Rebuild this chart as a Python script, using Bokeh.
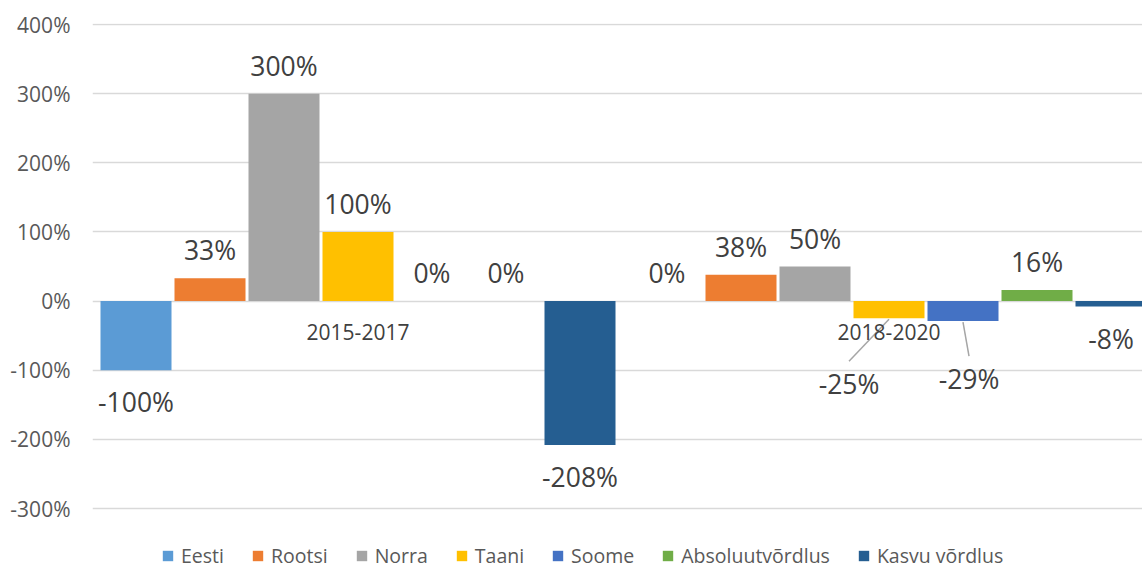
from bokeh.plotting import figure
from bokeh.models import ColumnDataSource, FixedTicker, PrintfTickFormatter, Legend, LegendItem, Range1d
from bokeh.core.properties import value
from bokeh.embed import file_html
from bokeh.resources import INLINE

# ---- data ----
periods = ["2015-2017", "2018-2020"]
series = ["Eesti", "Rootsi", "Norra", "Taani", "Soome", "Absoluutvõrdlus", "Kasvu võrdlus"]
eesti = [-100, 0]
rootsi = [33, 38]
norra = [300, 50]
taani = [100, -25]
soome = [0, -29]
absoluutvordlus = [0, 16]
kasvu_vordlus = [-208, -8]
y_ticks = [-300, -200, -100, 0, 100, 200, 300, 400]

values = [eesti, rootsi, norra, taani, soome, absoluutvordlus, kasvu_vordlus]
colors = ["#5B9BD5", "#ED7D31", "#A5A5A5", "#FFC000", "#4472C4", "#70AD47", "#255E91"]

# ---- layout constants (pixels) ----
W, H = 1142, 569
LEFT, TOP = 92, 23
PX_PER_Y = 484.0 / 700.0          # pixels per percentage point
Y1 = 400 + 1.0 / PX_PER_Y          # top of frame slightly above 400 %
FRAME_H = H - TOP
Y0 = Y1 - FRAME_H / PX_PER_Y       # frame extends down to the legend area
CAT_PX = 531.0
FRAME_W = W - LEFT
X_END = FRAME_W / CAT_PX
STEP = 74.0 / CAT_PX
BAR_W = 71.0 / CAT_PX

FONT = "Open Sans"

p = figure(width=W, height=H, output_backend="svg", toolbar_location=None,
           x_range=Range1d(0, X_END), y_range=Range1d(Y0, Y1),
           min_border_left=LEFT, min_border_right=0, min_border_top=TOP,
           min_border_bottom=0)
p.outline_line_color = None
p.background_fill_color = "white"
p.border_fill_color = "white"
p.xaxis.visible = False
p.xgrid.visible = False
p.ygrid.ticker = FixedTicker(ticks=y_ticks)
p.ygrid.grid_line_color = "#D9D9D9"
p.ygrid.grid_line_width = 1.3
p.yaxis.ticker = FixedTicker(ticks=y_ticks)
p.yaxis.formatter = PrintfTickFormatter(format="%d%%")
p.yaxis.axis_line_color = None
p.yaxis.major_tick_line_color = None
p.yaxis.minor_tick_line_color = None
p.yaxis.major_tick_out = 0
p.yaxis.major_tick_in = 0
p.yaxis.major_label_standoff = 22
p.yaxis.major_label_text_font = FONT
p.yaxis.major_label_text_font_size = "21px"
p.yaxis.major_label_text_color = "#595959"

centers = [i + 0.5 for i in range(len(periods))]

# label displacements for the moved labels (px): (series index, period index) -> (dx, dy)
moved = {(3, 1): (-40, 66), (4, 1): (6, 58)}

items = []
for si, (name, vals, col) in enumerate(zip(series, values, colors)):
    xs = [c + (si - 3) * STEP for c in centers]
    src = ColumnDataSource(dict(x=xs, top=vals))
    r = p.vbar(x="x", top="top", bottom=0, width=BAR_W, source=src,
               fill_color=col, line_color=None)
    items.append(LegendItem(label=name, renderers=[r]))
    lx, ly, lt, xo, yo = [], [], [], [], []
    for pi, v in enumerate(vals):
        key = (si, pi)
        if key in moved:
            dx, dy = moved[key]
            x0 = xs[pi]
            x1 = xs[pi] + dx / CAT_PX
            y1 = v - (dy - 23) / PX_PER_Y
            p.segment(x0=[x0], y0=[v - 1 / PX_PER_Y], x1=[x1], y1=[y1],
                      line_color="#A6A6A6", line_width=1.5)
            lx.append(xs[pi]); ly.append(v); lt.append(f"{v}%"); xo.append(dx); yo.append(dy)
        else:
            lx.append(xs[pi]); ly.append(v); lt.append(f"{v}%"); xo.append(0)
            yo.append(32 if v < 0 else -28)
    p.text(x=lx, y=ly, text=lt, x_offset=xo, y_offset=yo,
           text_align="center", text_baseline="middle",
           text_font=value(FONT), text_font_size="26.5px", text_color="#404040")

# category labels
p.text(x=centers, y=[0] * len(centers), text=periods, y_offset=31,
       text_align="center", text_baseline="middle",
       text_font=value(FONT), text_font_size="21px", text_color="#404040")

legend = Legend(items=items, orientation="horizontal", location=(69, 0),
                glyph_width=13, glyph_height=13, label_standoff=7, spacing=27,
                padding=0, margin=0, border_line_color=None, background_fill_alpha=0,
                label_text_font=FONT, label_text_font_size="19.5px",
                label_text_color="#595959")
p.add_layout(legend, "center")

open("out.html", "w").write(file_html(p, INLINE))
